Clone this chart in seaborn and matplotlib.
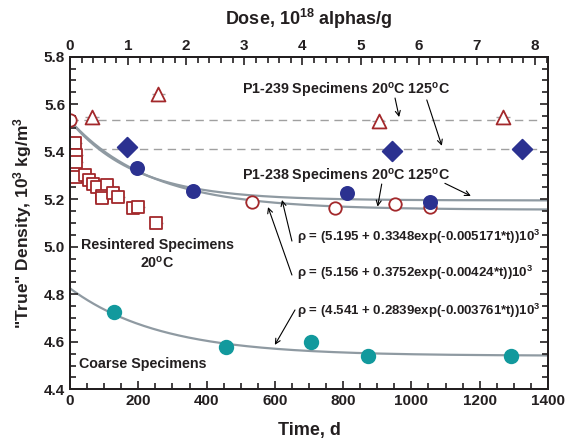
import numpy as np
import pandas as pd
import matplotlib
matplotlib.use("Agg")
import matplotlib.pyplot as plt
import seaborn as sns

# ---------------- data ----------------
# P1-238, 20C (open red circles)
p238_20_t = [0, 534, 776, 952, 1054]
p238_20_rho = [5.535, 5.19, 5.164, 5.181, 5.167]
# P1-238, 125C (filled blue circles)
p238_125_t = [197, 359, 810, 1054]
p238_125_rho = [5.33, 5.236, 5.228, 5.19]
# P1-239, 20C (open red triangles)
p239_20_t = [65, 259, 904, 1269]
p239_20_rho = [5.545, 5.643, 5.53, 5.545]
# P1-239, 125C (filled blue diamonds)
p239_125_t = [168, 944, 1323]
p239_125_rho = [5.421, 5.403, 5.41]
# Resintered specimens 20C (open red squares)
res_t = [14, 17, 19, 18, 44, 55, 68, 78, 107, 93, 94, 127, 142, 184, 199, 253]
res_rho = [5.435, 5.388, 5.358, 5.293, 5.30, 5.283, 5.263, 5.25, 5.26, 5.213,
           5.204, 5.225, 5.208, 5.162, 5.167, 5.101]
# Coarse specimens (teal circles)
coarse_t = [129, 457, 706, 874, 1291]
coarse_rho = [4.724, 4.58, 4.60, 4.54, 4.541]
# horizontal reference levels (P1-239 means)
ref_levels = [5.532, 5.411]
# fitted curves rho = a + b*exp(-k*t)
fit_a = [5.195, 5.156, 4.541]
fit_b = [0.3348, 0.3752, 0.2839]
fit_k = [0.005171, 0.00424, 0.003761]
fit_labels = [r"$\rho$ = (5.195 + 0.3348exp(-0.005171*t))10$^{\mathbf{3}}$",
              r"$\rho$ = (5.156 + 0.3752exp(-0.00424*t))10$^{\mathbf{3}}$",
              r"$\rho$ = (4.541 + 0.2839exp(-0.003761*t))10$^{\mathbf{3}}$"]
days_per_dose = 170.2
x_err = 20

txt = '#231f20'
red = '#a3282b'
blue = '#2b3190'
teal = '#12999d'
gray = '#8f9aa2'

# ---------------- style ----------------
sns.set_style("ticks", {"axes.axisbelow": False, "axes.edgecolor": txt,
                        "xtick.color": txt, "ytick.color": txt,
                        "xtick.direction": "in", "ytick.direction": "in",
                        "xtick.top": False, "ytick.right": True})
plt.rcParams['font.family'] = ['Liberation Sans', 'DejaVu Sans']
plt.rcParams['font.weight'] = 'bold'
plt.rcParams['axes.linewidth'] = 1.4
plt.rcParams['mathtext.fontset'] = 'custom'
plt.rcParams['mathtext.rm'] = 'Liberation Sans:bold'
plt.rcParams['mathtext.bf'] = 'Liberation Sans:bold'
plt.rcParams['mathtext.it'] = 'Liberation Sans:bold'
for a_ in ('xtick', 'ytick'):
    plt.rcParams[f'{a_}.major.size'] = 6
    plt.rcParams[f'{a_}.minor.size'] = 4
    plt.rcParams[f'{a_}.major.width'] = 1.2
    plt.rcParams[f'{a_}.minor.width'] = 1.2
    plt.rcParams[f'{a_}.labelsize'] = 11

fig = plt.figure(figsize=(5.71, 4.44), dpi=100)
ax = fig.add_axes([0.1226, 0.1232, 0.8371, 0.7491])

# fitted curves
t_grid = np.linspace(0, 1400, 400)
for a, b, k in zip(fit_a, fit_b, fit_k):
    df = pd.DataFrame({'t': t_grid, 'rho': a + b * np.exp(-k * t_grid)})
    sns.lineplot(data=df, x='t', y='rho', ax=ax, color=gray, lw=1.6, zorder=2)

# dashed reference lines
for lv in ref_levels:
    ax.plot([0, 1375], [lv, lv], ls=(0, (6, 4)), color='#a0a0a0', lw=1.0, zorder=1)

def series(t, rho, marker, face, edge, s, lw=1.3):
    ax.errorbar(t, rho, xerr=x_err, fmt='none', ecolor='#a0a0a0', elinewidth=1.0, zorder=3)
    df = pd.DataFrame({'t': t, 'rho': rho})
    sns.scatterplot(data=df, x='t', y='rho', ax=ax, marker=marker, s=s,
                    facecolor=face, edgecolor=edge, linewidth=lw, zorder=4)

series(res_t, res_rho, 's', 'white', red, 80)
series(p238_20_t, p238_20_rho, 'o', 'white', red, 80)
series(p238_125_t, p238_125_rho, 'o', blue, blue, 90)
series(p239_20_t, p239_20_rho, '^', 'white', red, 100)
series(p239_125_t, p239_125_rho, 'D', blue, blue, 100)
series(coarse_t, coarse_rho, 'o', teal, teal, 95)

ax.set_xlim(0, 1400)
ax.set_ylim(4.4, 5.8)
ax.set_xticks(np.arange(0, 1401, 200))
ax.set_xticks(np.arange(0, 1401, 50), minor=True)
ax.set_yticks(np.arange(4.4, 5.81, 0.2))
ax.set_yticks(np.arange(4.4, 5.81, 0.05), minor=True)
ax.set_yticklabels([f"{v:.1f}" for v in np.arange(4.4, 5.81, 0.2)])
ax.tick_params(axis='both', which='both', direction='in')
ax.tick_params(axis='y', which='both', left=True, right=True, labelright=False)

ax.set_xlabel("Time, d", fontsize=13, fontweight='bold', color=txt, labelpad=10)
ax.set_ylabel(r'"True" Density, 10$^{\mathbf{3}}$ kg/m$^{\mathbf{3}}$', fontsize=12.5,
              fontweight='bold', color=txt, labelpad=7)

# top dose axis
top = ax.twiny()
top.set_xlim(0, 1400 / days_per_dose)
top.set_xticks(np.arange(0, 9, 1))
top.set_xticks(np.arange(0, 8.21, 0.2), minor=True)
top.tick_params(axis='x', which='both', direction='in', top=True, bottom=False,
                labeltop=True, labelbottom=False)
top.tick_params(axis='x', which='major', pad=3)
top.set_xlabel(r"Dose, 10$^{\mathbf{18}}$ alphas/g", fontsize=13, fontweight='bold',
               color=txt, labelpad=10)

# annotations
fs = 10.3
ax.text(809, 5.656, r"P1-239 Specimens 20$^{\mathbf{o}}$C 125$^{\mathbf{o}}$C", ha='center',
        va='center', fontsize=fs, color=txt)
ax.text(809, 5.295, r"P1-238 Specimens 20$^{\mathbf{o}}$C 125$^{\mathbf{o}}$C", ha='center',
        va='center', fontsize=fs, color=txt)
ax.text(255, 5.008, "Resintered Specimens", ha='center', va='center', fontsize=fs, color=txt)
ax.text(255, 4.935, r"20$^{\mathbf{o}}$C", ha='center', va='center', fontsize=fs, color=txt)
ax.text(26, 4.507, "Coarse Specimens", ha='left', va='center', fontsize=fs, color=txt)
for lab, y in zip(fit_labels, [5.042, 4.888, 4.731]):
    ax.text(664, y, lab, ha='left', va='center', fontsize=9.5, color=txt)

arrows = [((952, 5.626), (964, 5.546)),
          ((1045, 5.618), (1089, 5.425)),
          ((913, 5.264), (901, 5.169)),
          ((1098, 5.267), (1174, 5.214)),
          ((650, 5.024), (621, 5.197)),
          ((650, 4.881), (580, 5.167)),
          ((659, 4.734), (600, 4.587))]
for (x0, y0), (x1, y1) in arrows:
    ax.annotate("", xy=(x1, y1), xytext=(x0, y0),
                arrowprops=dict(arrowstyle='->', color='black', lw=0.8,
                                shrinkA=0, shrinkB=0, mutation_scale=9))

fig.savefig("out.png", dpi=100)
